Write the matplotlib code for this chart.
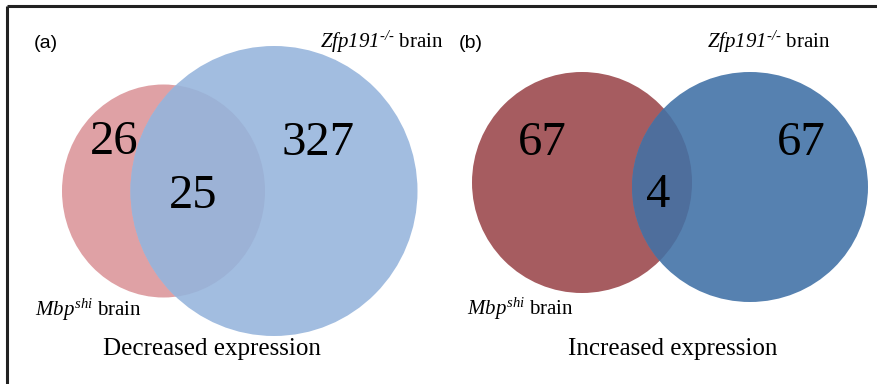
import matplotlib
matplotlib.use("Agg")
import matplotlib.pyplot as plt
from matplotlib.patches import Ellipse

# all math-mode text (gene names) is italic serif
plt.rcParams['mathtext.fontset'] = 'custom'
plt.rcParams['mathtext.rm'] = 'Liberation Serif:italic'
plt.rcParams['mathtext.it'] = 'Liberation Serif:italic'
plt.rcParams['mathtext.bf'] = 'Liberation Serif:bold'

# ---- data ----
panel_labels = ["(a)", "(b)"]
titles = ["Decreased expression", "Increased expression"]
set_a_label = r"$\mathit{Mbp}^{\mathit{shi}}$ brain"
set_b_label = "$Zfp191^{\u2010/\u2010}$ brain"
only_mbp = [26, 67]
shared = [25, 4]
only_zfp = [327, 67]

# ---- layout (pixel coordinates) ----
W, H = 878, 384
layout = [
    dict(red=(163.5, 191, 203, 213), blue=(274, 191, 287, 290),
         red_c="#DFA1A5", blue_c="#A2BDE0", ov_c="#9CB2D6",
         n1=(114, 154), n2=(193, 208), n3=(318, 155),
         plab=(34, 48), zlab=(443, 48), mlab=(35, 316), title=(212, 355)),
    dict(red=(582, 182.5, 220, 221), blue=(750, 187, 236, 230),
         red_c="#A65C60", blue_c="#5681B0", ov_c="#4E6E9C",
         n1=(542, 155), n2=(658, 207), n3=(801, 155),
         plab=(459, 48), zlab=(830, 48), mlab=(467, 315), title=(673, 355)),
]

fig = plt.figure(figsize=(W / 100, H / 100), dpi=100)
ax = fig.add_axes([0, 0, 1, 1])
ax.set_xlim(0, W)
ax.set_ylim(H, 0)
ax.axis('off')

serif = 'Liberation Serif'
for i, L in enumerate(layout):
    rx, ry, rw, rh = L['red']
    bx, by, bw, bh = L['blue']
    red = Ellipse((rx, ry), rw, rh, facecolor=L['red_c'], edgecolor='none', zorder=1)
    ax.add_patch(red)
    blue = Ellipse((bx, by), bw, bh, facecolor=L['blue_c'], edgecolor='none', zorder=2)
    ax.add_patch(blue)
    ov = Ellipse((bx, by), bw, bh, facecolor=L['ov_c'], edgecolor='none', zorder=3)
    ax.add_patch(ov)
    ov.set_clip_path(red)

    for key, val in (('n1', only_mbp[i]), ('n2', shared[i]), ('n3', only_zfp[i])):
        x, y = L[key]
        ax.text(x, y, str(val), fontsize=35, family=serif, ha='center',
                va='baseline', color='black', zorder=5)

    x, y = L['plab']
    ax.text(x, y, panel_labels[i], fontsize=14, family='Liberation Sans',
            ha='left', va='baseline', zorder=5)
    x, y = L['zlab']
    ax.text(x, y, set_b_label, fontsize=15, family=serif, ha='right',
            va='baseline', zorder=5)
    x, y = L['mlab']
    ax.text(x, y, set_a_label, fontsize=15, family=serif, ha='left',
            va='baseline', zorder=5)
    x, y = L['title']
    ax.text(x, y, titles[i], fontsize=18, family=serif, ha='center',
            va='baseline', zorder=5)

# partial frame: top and left lines
ax.plot([7, W], [5.5, 5.5], color='#222222', lw=2.2, solid_capstyle='butt', zorder=6)
ax.plot([7, 7], [5.5, H], color='#222222', lw=2.2, solid_capstyle='butt', zorder=6)

fig.savefig("out.png", dpi=100)
